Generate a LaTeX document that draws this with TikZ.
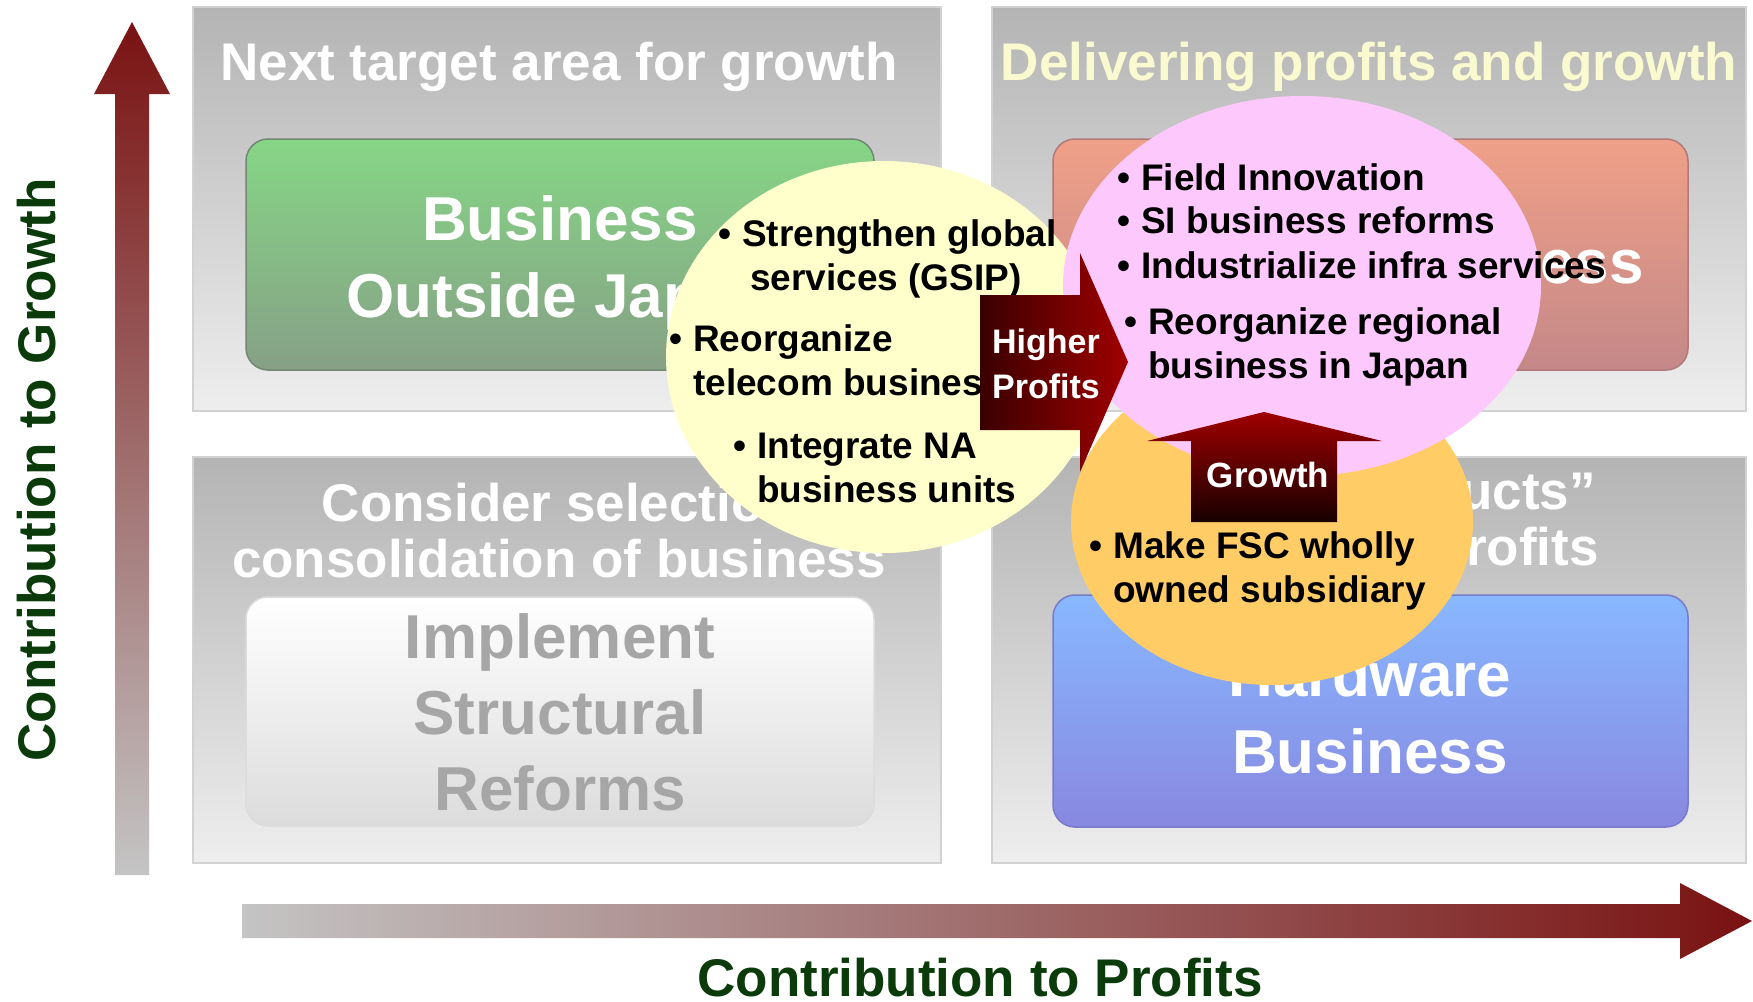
\documentclass[tikz,border=0pt]{standalone}
\usepackage{fontspec}
\setmainfont{Liberation Sans}

\definecolor{qtop}{HTML}{B4B4B4}
\definecolor{qbot}{HTML}{EEEEEE}
\definecolor{qline}{HTML}{D2D2D2}
\definecolor{greentop}{HTML}{86D686}
\definecolor{greenbot}{HTML}{86A086}
\definecolor{salmontop}{HTML}{F0A088}
\definecolor{salmonbot}{HTML}{C48888}
\definecolor{bluetop}{HTML}{88B8FF}
\definecolor{bluebot}{HTML}{8888E0}
\definecolor{palebot}{HTML}{DCDCDC}
\definecolor{reformgray}{HTML}{A6A6A6}
\definecolor{cream}{HTML}{FAFAD0}
\definecolor{yellowfill}{HTML}{FFFFCC}
\definecolor{pinkfill}{HTML}{FDC8FC}
\definecolor{orangefill}{HTML}{FFCC66}
\definecolor{axisred}{HTML}{7A1212}
\definecolor{axisgray}{HTML}{C4C4C4}
\definecolor{axisgreen}{HTML}{0B3B0B}
\definecolor{arrowdark}{HTML}{3A0000}
\definecolor{arrowred}{HTML}{A00000}
\definecolor{growthdark}{HTML}{180000}

\begin{document}
\begin{tikzpicture}[x=1pt,y=-1pt,
    quad/.style={top color=qtop, bottom color=qbot, draw=qline, line width=1.5pt},
    innerbox/.style={rounded corners=22pt, line width=1.5pt}]
        \useasboundingbox (0,0) rectangle (1753,1001);
        \fill[white] (0,0) rectangle (1753,1001);

        \path[top color=axisred, bottom color=axisgray] (115,875) -- (115,94) -- (94,94) -- (132,22) -- (170,94) -- (149,94) -- (149,875) -- cycle;
        \path[left color=axisgray, right color=axisred] (242,904) -- (1680,904) -- (1680,883) -- (1752,921) -- (1680,959) -- (1680,938) -- (242,938) -- cycle;

        \path[quad] (193,7) rectangle (941,411);
        \path[quad] (992,7) rectangle (1746,411);
        \path[quad] (193,457) rectangle (941,863);
        \path[quad] (992,457) rectangle (1746,863);

        \path[innerbox, top color=greentop, bottom color=greenbot, draw=greenbot!85!black] (246,139) rectangle (874,370);
        \path[innerbox, top color=salmontop, bottom color=salmonbot, draw=salmonbot!90!black] (1053,139) rectangle (1688,370);
        \path[innerbox, top color=white, bottom color=palebot, draw=palebot] (246,597) rectangle (874,826);
        \path[innerbox, top color=bluetop, bottom color=bluebot, draw=bluebot!90!black] (1053,595) rectangle (1688,827);

        \begin{scope}[every node/.style={font=\fontsize{53}{56}\selectfont\bfseries, text=white, align=center, inner sep=0pt, anchor=base}]
            \node (q1) at (559, 80) {Next target area for growth};
            \node (q2) [text=cream] at (1369, 80) {Delivering profits and growth};
            \node (q3) at (559, 577) {Consider selection\\consolidation of business};
            \node (q4) at (1369, 565) {Stable “products”\\Generating profits};
        \end{scope}
        \begin{scope}[every node/.style={font=\fontsize{62}{77}\selectfont\bfseries, text=white, align=center, inner sep=0pt, anchor=base}]
            \node (overseas) at (560, 317) {Business\\Outside Japan};
            \node (services) at (1370, 283) {Services Business};
            \node (reforms) [text=reformgray, font=\fontsize{62}{76}\selectfont\bfseries] at (560, 810) {Implement\\Structural\\Reforms};
            \node (hardware) at (1370, 773) {Hardware\\Business};
        \end{scope}

        \fill[yellowfill] (884,357) ellipse (218pt and 196pt);
        \fill[orangefill] (1272,522) ellipse (201pt and 163pt);
        \fill[pinkfill] (1302,286) ellipse (239pt and 190pt);

        \begin{scope}[every node/.style={font=\fontsize{37}{44}\selectfont\bfseries, align=left, inner sep=0pt, anchor=base west}]
            \node (gsip) at (742, 290) {\llap{\textbullet\ }Strengthen global\\\hspace*{8pt}services (GSIP)};
            \node (telecom) at (693, 395) {\llap{\textbullet\ }Reorganize\\telecom business};
            \node (na) at (757, 502) {\llap{\textbullet\ }Integrate NA\\business units};
            \node (field) at (1141, 190) {\llap{\textbullet\ }Field Innovation};
            \node (si) at (1141, 233) {\llap{\textbullet\ }SI business reforms};
            \node (infra) at (1141, 278) {\llap{\textbullet\ }Industrialize infra services};
            \node (regional) at (1148, 378) {\llap{\textbullet\ }Reorganize regional\\business in Japan};
            \node (fsc) at (1113, 602) {\llap{\textbullet\ }Make FSC wholly\\owned subsidiary};
        \end{scope}

        \path[left color=arrowdark, right color=arrowred] (980,295) -- (1080,295) -- (1080,253) -- (1128,362) -- (1080,472) -- (1080,430) -- (980,430) -- cycle;
        \path[bottom color=growthdark, top color=arrowred] (1191,522) -- (1191,441) -- (1147,441) -- (1264,412) -- (1382,441) -- (1337,441) -- (1337,522) -- cycle;

        \begin{scope}[every node/.style={text=white, align=center, inner sep=0pt, anchor=base}]
            \node (profits) [font=\fontsize{34}{45}\selectfont\bfseries] at (1046, 398) {Higher\\Profits};
            \node (growth) [font=\fontsize{35}{42}\selectfont\bfseries] at (1268, 487) {Growth};
        \end{scope}

        \begin{scope}[every node/.style={font=\fontsize{53}{56}\selectfont\bfseries, text=axisgreen, inner sep=0pt, anchor=base}]
            \node (ylabel) [rotate=90] at (55, 470) {Contribution to Growth};
            \node (xlabel) at (980, 996) {Contribution to Profits};
        \end{scope}
    \end{tikzpicture}
\end{document}
